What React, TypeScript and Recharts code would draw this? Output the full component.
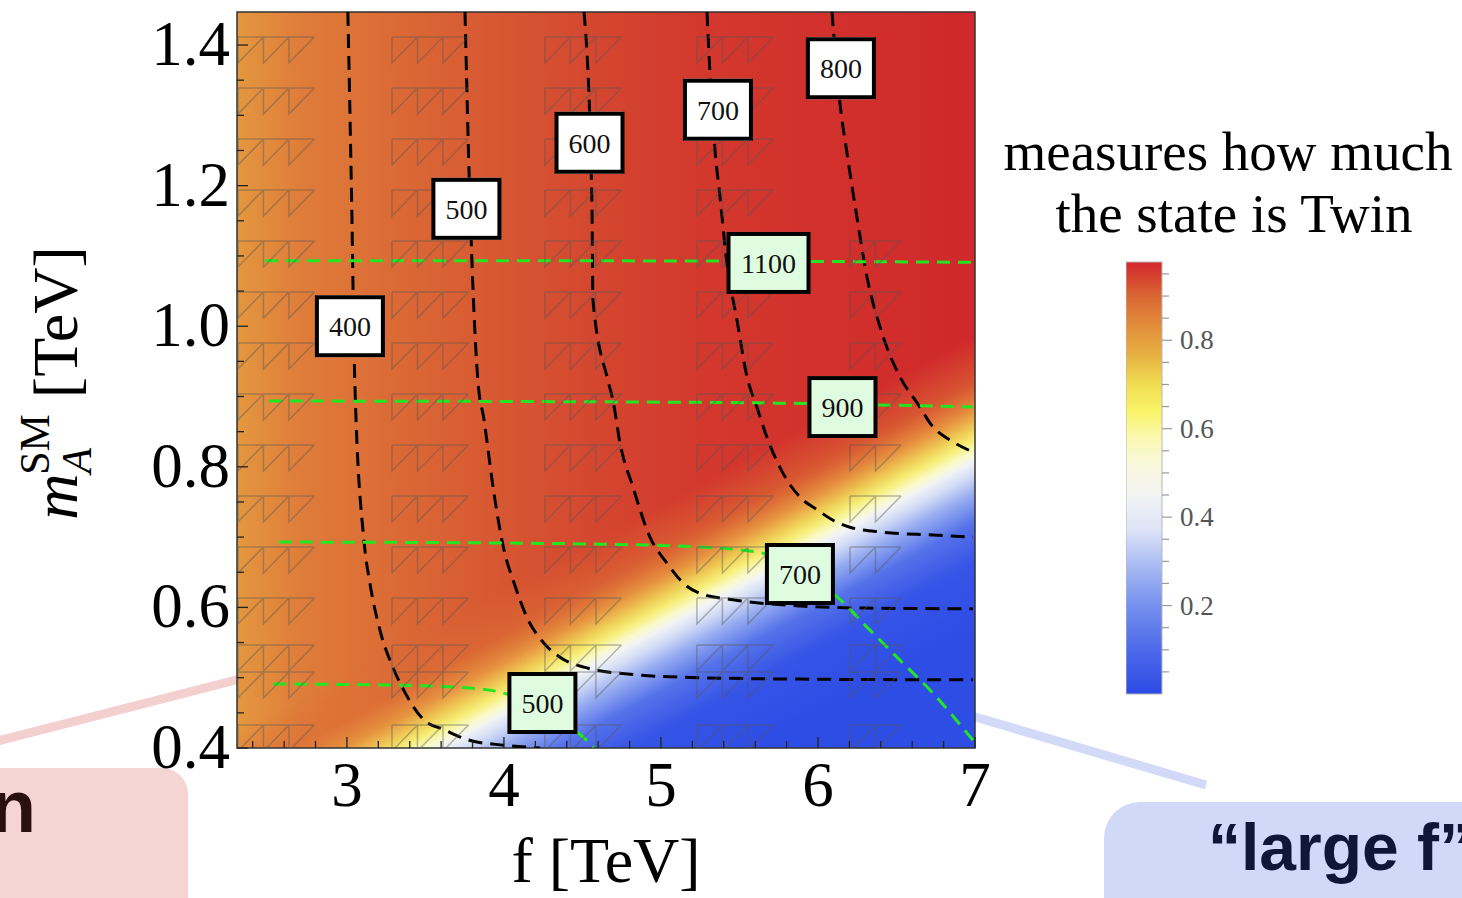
import React from "react";
import {
  Bar,
  BarChart,
  ComposedChart,
  Line,
  ReferenceArea,
  Scatter,
  XAxis,
  YAxis,
} from "recharts";

const SERIF = '"Liberation Serif", "Times New Roman", serif';
const SANS = '"Liberation Sans", Arial, sans-serif';

// axes (f in TeV, m_A^SM in TeV)
const F_DOMAIN: [number, number] = [2.3, 7.0];
const M_DOMAIN: [number, number] = [0.4, 1.447];
const F_TICKS = [2.4, 2.6, 2.8, 3, 3.2, 3.4, 3.6, 3.8, 4, 4.2, 4.4, 4.6, 4.8, 5, 5.2, 5.4, 5.6, 5.8, 6, 6.2, 6.4, 6.6, 6.8, 7];
const M_TICKS = [0.4, 0.45, 0.5, 0.55, 0.6, 0.65, 0.7, 0.75, 0.8, 0.85, 0.9, 0.95, 1.0, 1.05, 1.1, 1.15, 1.2, 1.25, 1.3, 1.35, 1.4];

// black dashed contours (labelled 400..800)
const contour400 = [[3.006, 1.447], [3.03, 1.18], [3.05, 0.923], [3.11, 0.692], [3.146, 0.635], [3.21, 0.568], [3.3, 0.511], [3.36, 0.483], [3.49, 0.44], [3.62, 0.426], [3.78, 0.411], [4.0, 0.404], [4.23, 0.4]];
const contour500 = [[3.752, 1.447], [3.783, 1.18], [3.834, 0.923], [3.873, 0.867], [3.936, 0.763], [4.0, 0.682], [4.064, 0.635], [4.146, 0.586], [4.255, 0.549], [4.357, 0.529], [4.51, 0.515], [4.847, 0.504], [5.248, 0.5], [5.885, 0.498], [6.987, 0.497]];
const contour600 = [[4.51, 1.447], [4.56, 1.18], [4.567, 1.037], [4.662, 0.923], [4.694, 0.895], [4.739, 0.834], [4.822, 0.771], [4.93, 0.7], [5.038, 0.663], [5.14, 0.635], [5.248, 0.62], [5.459, 0.611], [5.885, 0.602], [6.312, 0.599], [6.987, 0.598]];
const contour700 = [[5.293, 1.447], [5.312, 1.36], [5.344, 1.251], [5.376, 1.184], [5.42, 1.09], [5.484, 1.009], [5.548, 0.928], [5.611, 0.885], [5.675, 0.842], [5.777, 0.791], [5.885, 0.757], [5.994, 0.739], [6.096, 0.724], [6.204, 0.714], [6.414, 0.707], [6.732, 0.703], [6.987, 0.7]];
const contour800 = [[6.089, 1.447], [6.14, 1.317], [6.185, 1.246], [6.248, 1.155], [6.312, 1.07], [6.395, 0.999], [6.522, 0.928], [6.631, 0.891], [6.732, 0.857], [6.841, 0.838], [6.987, 0.821]];

// green dashed contours (labelled 500..1100)
const green1100 = [[2.478, 1.093], [4.5, 1.093], [6.987, 1.091]];
const green900 = [[2.503, 0.8936], [4.84, 0.8922], [5.6, 0.891], [6.987, 0.8851]];
const green700 = [[2.567, 0.693], [3.975, 0.6916], [4.611, 0.69], [5.248, 0.686], [5.675, 0.676], [5.885, 0.649], [6.096, 0.62], [6.312, 0.572], [6.522, 0.525], [6.732, 0.478], [6.987, 0.411]];
const green500 = [[2.529, 0.491], [3.255, 0.4896], [3.783, 0.4853], [4.0, 0.478], [4.242, 0.454], [4.465, 0.4228], [4.573, 0.4014]];

// contour labels
const blackLabelF = [3.019, 3.761, 4.545, 5.363, 6.146];
const blackLabelM = [1.0, 1.167, 1.261, 1.308, 1.367];
const blackLabelText = ["400", "500", "600", "700", "800"];
const greenLabelF = [5.685, 6.156, 5.885, 4.245];
const greenLabelM = [1.09, 0.885, 0.6475, 0.464];
const greenLabelText = ["1100", "900", "700", "500"];

// hatch glyph grid (mesh artefacts)
const hatchColF = [2.306, 3.287, 4.261, 5.229, 6.204];
const hatchColCells = [3, 3, 3, 3, 2];
const hatchColFirstRow = [0, 0, 0, 0, 4];
const hatchRowM = [1.4114, 1.3388, 1.2663, 1.1937, 1.1212, 1.0486, 0.9761, 0.9036, 0.831, 0.7585, 0.6859, 0.6134, 0.5465, 0.5081, 0.4327];

// colour bar
const CB_MAX = 0.977;
const CB_TICKS = [0.05, 0.1, 0.15, 0.2, 0.25, 0.3, 0.35, 0.4, 0.45, 0.5, 0.55, 0.6, 0.65, 0.7, 0.75, 0.8, 0.85, 0.9, 0.95];
const cbStopValue = [0, 0.1, 0.2, 0.3, 0.37, 0.45, 0.52, 0.58, 0.64, 0.7, 0.76, 0.82, 0.9, 0.977];
const cbStopColor = ["#2c4ae6", "#4d6aea", "#7590ee", "#aebff3", "#dde3f8", "#f2f3f2", "#f8f8dc", "#fbf8b0", "#f9f468", "#f1dd52", "#e7b443", "#e2943c", "#da6633", "#d2262b"];

const pts = (arr: number[][]) => arr.map(([f, m]) => ({ f, m }));

const blackLabels = blackLabelF.map((f, i) => ({ f, m: blackLabelM[i], text: blackLabelText[i], green: false }));
const greenLabels = greenLabelF.map((f, i) => ({ f, m: greenLabelM[i], text: greenLabelText[i], green: true }));

const hatchData: { f: number; m: number; n: number }[] = [];
hatchColF.forEach((f, c) => {
  hatchRowM.forEach((m, r) => {
    if (r >= hatchColFirstRow[c]) hatchData.push({ f, m, n: hatchColCells[c] });
  });
});

const isMult = (v: number, step: number) => Math.abs(v / step - Math.round(v / step)) < 1e-6;

function BottomTick(props: any) {
  const { x, y, payload } = props;
  const major = isMult(payload.value, 1);
  return (
    <g>
      <line x1={x} y1={y} x2={x} y2={y - (major ? 11 : 7)} stroke="#222" strokeWidth={1.3} />
      {major && (
        <text x={x} y={y + 58} textAnchor="middle" fontFamily={SERIF} fontSize={63} fill="#000">
          {Math.round(payload.value)}
        </text>
      )}
    </g>
  );
}

function TopTick(props: any) {
  const { x, y, payload } = props;
  const major = isMult(payload.value, 1);
  return <line x1={x} y1={y} x2={x} y2={y + (major ? 11 : 7)} stroke="#222" strokeWidth={1.3} />;
}

function LeftTick(props: any) {
  const { x, y, payload } = props;
  const major = isMult(payload.value, 0.2);
  return (
    <g>
      <line x1={x} y1={y} x2={x + (major ? 11 : 7)} y2={y} stroke="#222" strokeWidth={1.3} />
      {major && (
        <text x={x - 7} y={y + 20} textAnchor="end" fontFamily={SERIF} fontSize={63} fill="#000">
          {payload.value.toFixed(1)}
        </text>
      )}
    </g>
  );
}

function RightTick(props: any) {
  const { x, y, payload } = props;
  const major = isMult(payload.value, 0.2);
  return <line x1={x} y1={y} x2={x - (major ? 11 : 7)} y2={y} stroke="#222" strokeWidth={1.3} />;
}

function YTitle(props: any) {
  const vb = props.viewBox || { x: 0, y: 12, width: 237, height: 736 };
  const x = vb.x + 77;
  const y = vb.y + vb.height / 2 + 3;
  return (
    <text transform={`translate(${x},${y}) rotate(-90)`} textAnchor="middle" fontFamily={SERIF} fontSize={64} fill="#000">
      <tspan fontStyle="italic">m</tspan>
      <tspan fontStyle="italic" fontSize={42} dy={14}>A</tspan>
      <tspan fontSize={42} dx={-27} dy={-42}>SM</tspan>
      <tspan dy={28}> [TeV]</tspan>
    </text>
  );
}

function XTitle(props: any) {
  const vb = props.viewBox || { x: 237, y: 748, width: 738, height: 150 };
  return (
    <text x={vb.x + vb.width / 2} y={vb.y + 134} textAnchor="middle" fontFamily={SERIF} fontSize={64} fill="#000">
      f [TeV]
    </text>
  );
}

function HatchGlyph(props: any) {
  const { cx, cy, payload } = props;
  if (cx == null || cy == null) return null;
  const w = 25.5;
  const h = 26;
  const n = payload.n;
  let d = `M${cx},${cy}H${cx + w * n}`;
  for (let i = 0; i < n; i++) {
    const x0 = cx + w * i;
    d += `M${x0},${cy}V${cy + h}L${x0 + w},${cy}`;
  }
  return <path d={d} fill="none" stroke="rgba(85,85,85,0.42)" strokeWidth={1.5} />;
}

function LabelBox(props: any) {
  const { cx, cy, payload } = props;
  if (cx == null || cy == null) return null;
  const w = payload.text.length > 3 ? 80 : 66;
  const h = 58;
  return (
    <g>
      <rect x={cx - w / 2 - 1} y={cy - h / 2 - 2} width={w + 2} height={h + 4} fill="#fff" />
      <rect
        x={cx - w / 2}
        y={cy - h / 2}
        width={w}
        height={h}
        fill={payload.green ? "#e0fce0" : "#ffffff"}
        stroke="#000"
        strokeWidth={4}
      />
      <text x={cx} y={cy + 10} textAnchor="middle" fontFamily={SERIF} fontSize={28} fill="#111">
        {payload.text}
      </text>
    </g>
  );
}

function CbTick(props: any) {
  const { x, y, payload } = props;
  const major = isMult(payload.value, 0.2);
  return (
    <g>
      <line x1={x} y1={y} x2={x + (major ? 10 : 7)} y2={y} stroke="#9a9a9a" strokeWidth={1.2} />
      {major && (
        <text x={x + 18} y={y + 9} fontFamily={SERIF} fontSize={27} fill="#555">
          {payload.value.toFixed(1)}
        </text>
      )}
    </g>
  );
}

const blackLines = [contour400, contour500, contour600, contour700, contour800];
const greenLines = [green1100, green900, green700, green500];

function MainPlot() {
  return (
    <ComposedChart
      width={1000}
      height={898}
      margin={{ top: 12, right: 25, bottom: 0, left: 0 }}
    >
      <defs>
        <linearGradient id="bgGrad" x1="0" y1="0" x2="1" y2="0">
          <stop offset="0" stopColor="#e4973f" />
          <stop offset="0.085" stopColor="#df7d3a" />
          <stop offset="0.22" stopColor="#db6935" />
          <stop offset="0.356" stopColor="#d75732" />
          <stop offset="0.49" stopColor="#d4462f" />
          <stop offset="0.627" stopColor="#d3382d" />
          <stop offset="1" stopColor="#d0282b" />
        </linearGradient>
        <linearGradient id="diagGrad" x1="0.5426" y1="0.6285" x2="0.7324" y2="0.9805">
          <stop offset="0.127" stopColor="#dd6a35" stopOpacity={0} />
          <stop offset="0.263" stopColor="#dd7035" stopOpacity={0.6} />
          <stop offset="0.347" stopColor="#e79640" stopOpacity={0.95} />
          <stop offset="0.405" stopColor="#f0d058" />
          <stop offset="0.439" stopColor="#f7ee78" />
          <stop offset="0.473" stopColor="#fafac8" />
          <stop offset="0.5" stopColor="#f2f4f4" />
          <stop offset="0.541" stopColor="#d3dcf6" />
          <stop offset="0.602" stopColor="#94aaf0" />
          <stop offset="0.686" stopColor="#5572ea" />
          <stop offset="0.805" stopColor="#3654e6" />
          <stop offset="1" stopColor="#2e4de5" />
        </linearGradient>
      </defs>
      <XAxis
        dataKey="f"
        type="number"
        domain={F_DOMAIN}
        allowDataOverflow
        ticks={F_TICKS}
        interval={0}
        tick={<BottomTick />}
        tickLine={false}
        axisLine={false}
        tickSize={0}
        tickMargin={0}
        height={150}
        label={<XTitle />}
      />
      <XAxis
        xAxisId="top"
        orientation="top"
        type="number"
        domain={F_DOMAIN}
        allowDataOverflow
        ticks={F_TICKS}
        interval={0}
        tick={<TopTick />}
        tickLine={false}
        axisLine={false}
        tickSize={0}
        tickMargin={0}
        height={0}
      />
      <YAxis
        dataKey="m"
        type="number"
        domain={M_DOMAIN}
        allowDataOverflow
        ticks={M_TICKS}
        interval={0}
        tick={<LeftTick />}
        tickLine={false}
        axisLine={false}
        tickSize={0}
        tickMargin={0}
        width={237}
        label={<YTitle />}
      />
      <YAxis
        yAxisId="right"
        orientation="right"
        type="number"
        domain={M_DOMAIN}
        allowDataOverflow
        ticks={M_TICKS}
        interval={0}
        tick={<RightTick />}
        tickLine={false}
        axisLine={false}
        tickSize={0}
        tickMargin={0}
        width={0}
      />
      <ReferenceArea x1={F_DOMAIN[0]} x2={F_DOMAIN[1]} y1={M_DOMAIN[0]} y2={M_DOMAIN[1]} fill="url(#bgGrad)" fillOpacity={1} stroke="none" ifOverflow="visible" />
      <ReferenceArea x1={F_DOMAIN[0]} x2={F_DOMAIN[1]} y1={M_DOMAIN[0]} y2={M_DOMAIN[1]} fill="url(#diagGrad)" fillOpacity={1} stroke="none" ifOverflow="visible" />
      <Scatter data={hatchData} shape={<HatchGlyph />} isAnimationActive={false} />
      {blackLines.map((c, i) => (
        <Line
          key={`b${i}`}
          data={pts(c)}
          dataKey="m"
          type="monotone"
          stroke="#000"
          strokeWidth={3}
          strokeDasharray="14 8"
          dot={false}
          activeDot={false}
          isAnimationActive={false}
        />
      ))}
      {greenLines.map((c, i) => (
        <Line
          key={`g${i}`}
          data={pts(c)}
          dataKey="m"
          type="monotone"
          stroke="#22e622"
          strokeWidth={3}
          strokeDasharray="13 8"
          dot={false}
          activeDot={false}
          isAnimationActive={false}
        />
      ))}
      <Scatter data={blackLabels} shape={<LabelBox />} isAnimationActive={false} />
      <Scatter data={greenLabels} shape={<LabelBox />} isAnimationActive={false} />
      <ReferenceArea x1={F_DOMAIN[0]} x2={F_DOMAIN[1]} y1={M_DOMAIN[0]} y2={M_DOMAIN[1]} fill="none" stroke="#333" strokeWidth={1.5} ifOverflow="visible" />
    </ComposedChart>
  );
}

function ColorBar() {
  return (
    <BarChart
      width={120}
      height={450}
      data={[{ k: "c", v: CB_MAX }]}
      margin={{ top: 10, right: 0, bottom: 8, left: 0 }}
      barCategoryGap={0}
    >
      <defs>
        <linearGradient id="cbGrad" x1="0" y1="1" x2="0" y2="0">
          {cbStopValue.map((v, i) => (
            <stop key={i} offset={v / CB_MAX} stopColor={cbStopColor[i]} />
          ))}
        </linearGradient>
      </defs>
      <XAxis dataKey="k" hide />
      <YAxis
        orientation="right"
        type="number"
        domain={[0, CB_MAX]}
        ticks={CB_TICKS}
        interval={0}
        tick={<CbTick />}
        tickLine={false}
        axisLine={false}
        tickSize={0}
        tickMargin={0}
        width={84}
      />
      <Bar dataKey="v" fill="url(#cbGrad)" stroke="#b8b8b8" strokeWidth={1} isAnimationActive={false} />
    </BarChart>
  );
}

export default function App() {
  return (
    <div
      style={{
        position: "absolute",
        left: 0,
        top: 0,
        width: 1462,
        height: 898,
        overflow: "hidden",
        background: "#fff",
      }}
    >
      <svg width={1462} height={898} style={{ position: "absolute", left: 0, top: 0 }}>
        <line x1={-10} y1={743} x2={240} y2={679} stroke="#f3cfcf" strokeWidth={9} />
        <line x1={972} y1={716} x2={1206} y2={785} stroke="#d3daf8" strokeWidth={9} />
        <rect x={-40} y={768} width={228} height={180} rx={26} fill="#f5d4d4" />
        <rect x={1104} y={802} width={420} height={150} rx={36} fill="#d1d9f8" />
        <text x={36} y={832} textAnchor="end" fontFamily={SANS} fontWeight="bold" fontSize={75} fill="#2b1010">
          n
        </text>
        <text x={1208} y={870} fontFamily={SANS} fontWeight="bold" fontSize={66} fill="#0f1738">
          “large f”
        </text>
        <text x={1228} y={170} textAnchor="middle" fontFamily={SERIF} fontSize={55} fill="#000">
          measures how much
        </text>
        <text x={1234} y={232} textAnchor="middle" fontFamily={SERIF} fontSize={55} fill="#000">
          the state is Twin
        </text>
      </svg>
      <div style={{ position: "absolute", left: 0, top: 0 }}>
        <MainPlot />
      </div>
      <div style={{ position: "absolute", left: 1126, top: 252 }}>
        <ColorBar />
      </div>
    </div>
  );
}
